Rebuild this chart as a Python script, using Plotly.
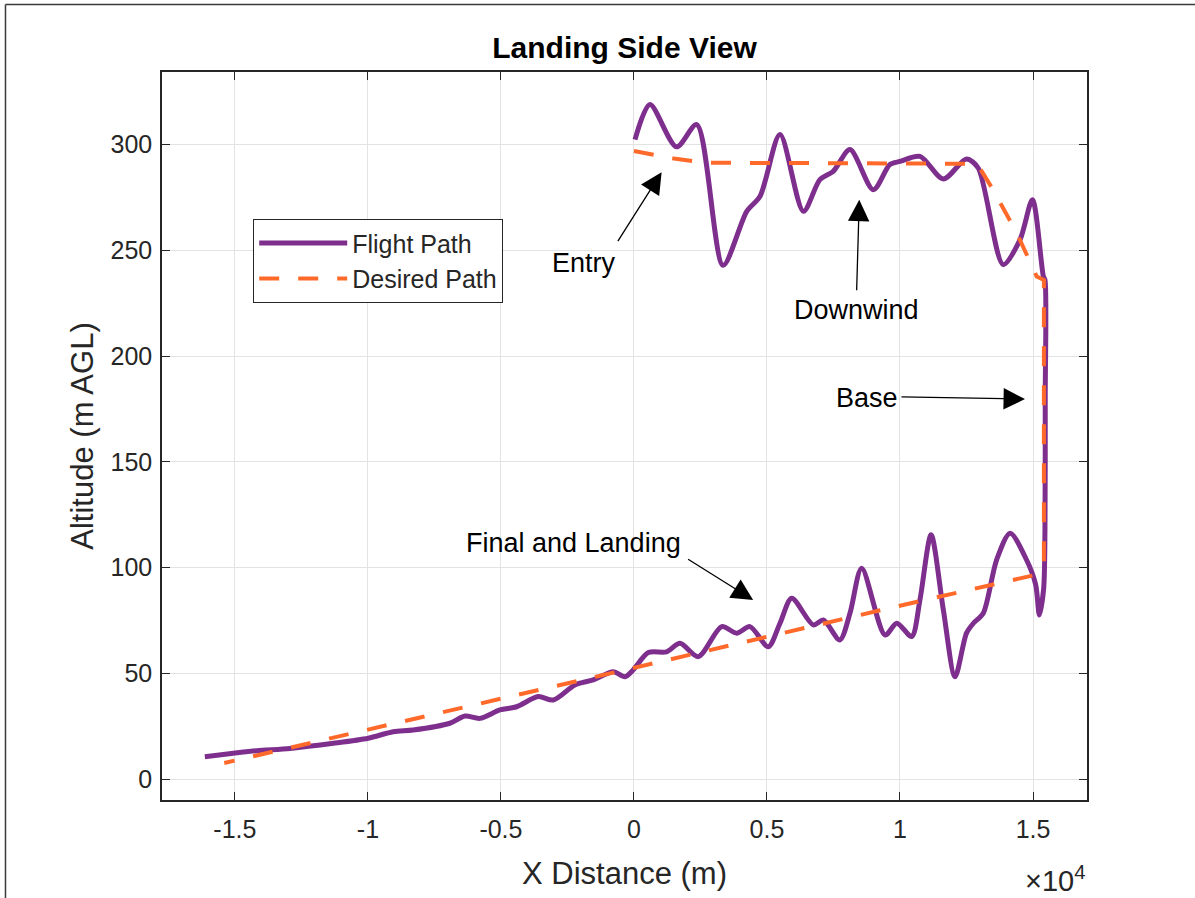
import plotly.graph_objects as go

# Flight path: entry at x=0, downwind to the east, base leg down, then final back west to touchdown
flight_x = [40, 600, 1600, 2360, 3350, 4240, 4740, 5490, 6370, 6990, 7490, 8120, 9000, 9620,
            10000, 10750, 11630, 12500, 12940, 13880, 14510, 14980, 15390,
            15450, 15460, 15450, 15400, 15240, 15100, 14760,
            14140, 13630, 13130, 12760, 12500, 12070, 11630, 11170, 10750, 10440, 9880, 9440,
            8560, 8120, 7740, 7120, 6740, 5930, 5490, 5050, 4360, 3860, 3300, 2420, 1730,
            1230, 540, -30, -340, -780, -1530, -2220, -3030, -3600, -4410, -5040, -5790,
            -6350, -6920, -8300, -9050, -9990, -11300, -12930, -14180, -15060, -16130]
flight_y = [302.4, 319, 299, 309.5, 243, 268.5, 275.6, 304.8, 268.5, 283.5, 287.4, 297.7, 278.7, 290.6,
            292.1, 294.5, 283.8, 293.3, 289, 243.3, 255, 274, 237.7,
            236, 180, 118, 90, 77.6, 92, 103.6,
            116.3, 103.6, 78.4, 73.7, 69, 48.4, 80, 115.5, 84.7, 67.4, 73.7, 68.1,
            99.7, 78.4, 65.8, 75.2, 72.9, 85.5, 73.7, 62.6, 72.1, 69, 72.1, 57.9, 64.2,
            60.2, 59.8, 51.6, 48.4, 50.8, 46.9, 44.5, 37.4, 39, 34.2, 32.7, 28.7,
            29.8, 26.4, 23.2, 22.4, 19.3, 16.9, 14.5, 13.4, 12.2, 10.6]

# Desired path
desired_x = [0, 1500, 2700, 8000, 12900, 13500, 14400, 15140, 15410, 15410,
             15000, 10000, 5000, 0, -5000, -10000, -15400]
desired_y = [297, 293.5, 291.5, 291, 291, 278.7, 258, 237.7, 236, 102,
             96.3, 82, 67.5, 52.6, 38, 23.5, 7.6]

x_ticks = [-15000, -10000, -5000, 0, 5000, 10000, 15000]
x_tick_text = ["-1.5", "-1", "-0.5", "0", "0.5", "1", "1.5"]
y_ticks = [0, 50, 100, 150, 200, 250, 300]

# Leg labels: (text, text x, text y, arrow tail x, tail y, head x, head y)
leg_labels = [
    ("Entry", -1880, 244, -640, 253.7, 1040, 287),
    ("Downwind", 8380, 222, 8370, 230.5, 8470, 274),
    ("Base", 8760, 180, 10000, 180.8, 14700, 179.7),
    ("Final and Landing", -2290, 111.7, 1980, 104.4, 4480, 84.7),
]

FONT = "Liberation Sans, Arial, sans-serif"
INK = "#262626"
PURPLE = "#7E2F8E"
ORANGE = "#FF6A2B"

fig = go.Figure()
fig.add_trace(go.Scatter(
    x=flight_x, y=flight_y, mode="lines", name="Flight Path",
    line=dict(color=PURPLE, width=5, shape="spline", smoothing=0.8),
))
fig.add_trace(go.Scatter(
    x=desired_x, y=desired_y, mode="lines", name="Desired Path",
    line=dict(color=ORANGE, width=4, dash="20px,19px"),
))

annotations = []
for text, tx, ty, ax, ay, hx, hy in leg_labels:
    # arrow from the label toward the leg it names
    annotations.append(dict(
        x=hx, y=hy, ax=ax, ay=ay, xref="x", yref="y", axref="x", ayref="y",
        text="", showarrow=True, arrowhead=2, arrowsize=3.3, arrowwidth=1.3,
        arrowcolor="black", standoff=0, startstandoff=0,
    ))
    annotations.append(dict(
        x=tx, y=ty, xref="x", yref="y", text=text, showarrow=False,
        font=dict(family=FONT, size=27, color="black"),
        xanchor="center", yanchor="middle",
    ))

# Exponent marker for the x axis
annotations.append(dict(
    x=1.0, y=-0.108, xref="paper", yref="paper", text="×10<sup>4</sup>",
    showarrow=False, xanchor="right", yanchor="middle",
    font=dict(family=FONT, size=29, color=INK),
))

fig.update_layout(
    width=1195, height=898,
    margin=dict(l=162, r=108, t=72, b=98),
    paper_bgcolor="white", plot_bgcolor="white",
    title=dict(
        text="<b>Landing Side View</b>", x=0.5226, xref="container", xanchor="center",
        y=0.947, yref="container", yanchor="middle",
        font=dict(family=FONT, size=30, color="black"),
    ),
    font=dict(family=FONT, color=INK),
    showlegend=True,
    legend=dict(
        x=(253 - 162) / 925, y=(800 - 219) / 728, xanchor="left", yanchor="top",
        bgcolor="white", bordercolor=INK, borderwidth=1.2,
        font=dict(family=FONT, size=25, color=INK),
        tracegroupgap=0, itemwidth=88,
    ),
    annotations=annotations,
    shapes=[
        # window frame edges at top and left
        dict(type="line", xref="paper", yref="paper", x0=-0.1692, x1=1.2, y0=1.0927, y1=1.0927,
             line=dict(color="#3a3a3a", width=1.5)),
        dict(type="line", xref="paper", yref="paper", x0=-0.1692, x1=-0.1692, y0=-0.2, y1=1.0927,
             line=dict(color="#3a3a3a", width=1.5)),
    ],
)

axis_common = dict(
    showline=True, linecolor=INK, linewidth=1.5, mirror="allticks",
    ticks="inside", ticklen=8, tickwidth=1.2, tickcolor=INK,
    showgrid=True, gridcolor="#e3e3e3", gridwidth=1, zeroline=False,
    tickfont=dict(family=FONT, size=25, color=INK),
)
fig.update_xaxes(
    range=[-17740, 17030], tickvals=x_ticks, ticktext=x_tick_text, ticklabelstandoff=6,
    title=dict(text="X Distance (m)", font=dict(family=FONT, size=31, color=INK), standoff=21),
    **axis_common,
)
fig.update_yaxes(
    range=[-9.9, 334.4], tickvals=y_ticks, ticklabelstandoff=3,
    title=dict(text="Altitude (m AGL)", font=dict(family=FONT, size=31, color=INK), standoff=8),
    **axis_common,
)

fig.write_html("out.html")
